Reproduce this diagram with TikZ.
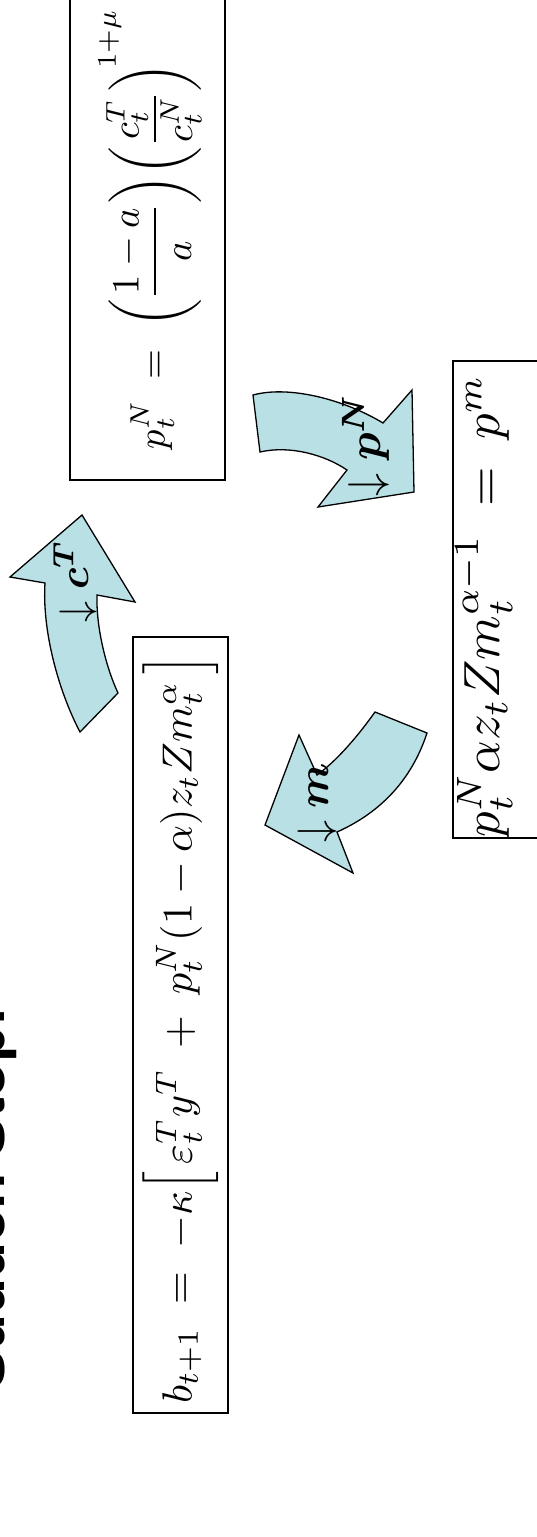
\documentclass[tikz,border=0pt]{standalone}
\usepackage{amsmath,amssymb,bm}
\usepackage{graphicx}
\usepackage{fontspec}
\newfontfamily\titlefont{Liberation Sans}
\definecolor{arrowfill}{RGB}{185,224,228}
\tikzset{
  eqbox/.style={draw=black, line width=1.8pt, inner sep=0pt},
  eqtext/.style={rotate=90, inner sep=0pt},
  titletext/.style={rotate=90, inner sep=0pt, font=\titlefont\bfseries\fontsize{59}{64}\selectfont},
  bluearrow/.style={draw=black, fill=arrowfill, line width=1.3pt, line join=miter},
  arrowlabel/.style={rotate=90, inner sep=0pt},
}
\begin{document}
\begin{tikzpicture}[x=1pt,y=-1pt]
\useasboundingbox (0,0) rectangle (537,1537);
\clip (0,0) rectangle (537,1537);
% title (mostly cut off at the left edge, as in the reference)
\node[titletext, anchor=base west] (title) at (5,1390) {Sudden Stop!};
% boxes
\node[eqbox, minimum width=95pt, minimum height=776pt] (box1) at (180.5,1025) {};
\node[eqbox, minimum width=155pt, minimum height=500pt] (box2) at (147.5,230) {};
\node[eqbox, minimum width=127pt, minimum height=477pt] (box3) at (516.5,599.5) {};
% equations
\node[eqtext] (eq1) at (181,1029) {\resizebox{748pt}{!}{$b_{t+1} \;=\; -\kappa\Big[\,\varepsilon_t^T y^T \;+\; p_t^N(1-\alpha)z_tZm_t^\alpha\,\Big]$}};
\node[eqtext] (eq2) at (150,229) {\resizebox{440pt}{!}{$\displaystyle p_t^N \;=\; \left(\frac{1-a}{a}\right)\!\left(\dfrac{c_t^T}{c_t^N}\right)^{\!1+\mu}$}};
\node[eqtext, anchor=north] (eq3) at (455,606) {\resizebox{462pt}{!}{$p_t^N\alpha z_tZm_t^{\alpha-1}\;=\;p^m$}};
% curved block arrows
\draw[bluearrow] (80,732) -- (118,693) .. controls (105,665) and (96,625) .. (97,595)
  -- (135,602) -- (82,515) -- (10,577) -- (45,583)
  .. controls (42,630) and (58,690) .. (80,732) -- cycle;
\draw[bluearrow] (253,395) .. controls (290,385) and (345,400) .. (383,423)
  -- (412,390) -- (414,492) -- (318,507) -- (347,470)
  .. controls (325,455) and (290,445) .. (260,452) -- cycle;
\draw[bluearrow] (375,712) .. controls (355,740) and (335,762) .. (317,775)
  -- (299,735) -- (265,825) -- (353,873) -- (337,832)
  .. controls (375,815) and (410,785) .. (427,733) -- cycle;
% arrow labels
\node[arrowlabel] (lc) at (75,581) {\scalebox{4.2}{$\downarrow\boldsymbol{c^T}$}};
\node[arrowlabel] (lp) at (366,445) {\scalebox{4.6}{$\downarrow\boldsymbol{p^N}$}};
\node[arrowlabel] (lm) at (317,803) {\scalebox{4.4}{$\downarrow\boldsymbol{m}$}};
\end{tikzpicture}
\end{document}
